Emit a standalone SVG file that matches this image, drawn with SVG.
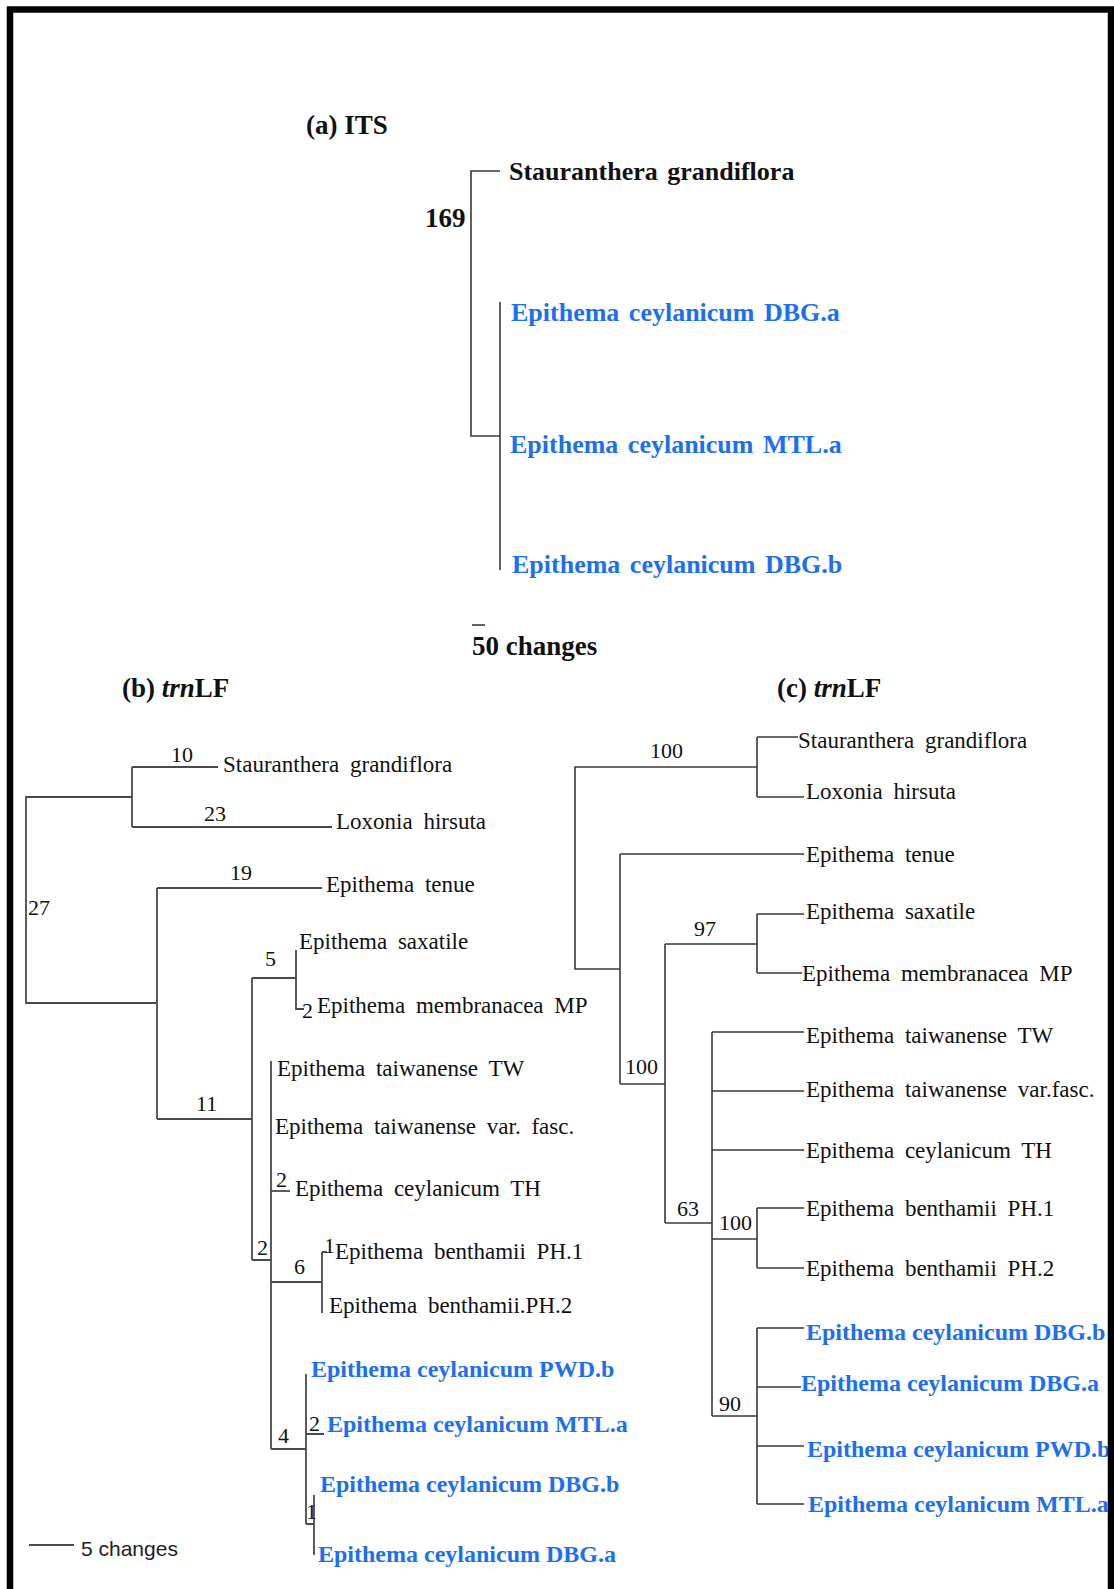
<svg xmlns="http://www.w3.org/2000/svg" width="1114" height="1589" viewBox="0 0 1114 1589">
<style>
.bg{fill:#fff}
.frame{fill:none;stroke:#000;stroke-width:6.5}
.ln{fill:none;stroke:#3a3a3a;stroke-width:1.6}
.lnb{fill:none;stroke:#4a4a4a;stroke-width:1.8}
.ttl{font-family:"Liberation Serif",serif;font-weight:bold;font-size:27px;fill:#111}
.its{font-family:"Liberation Serif",serif;font-weight:bold;font-size:26px;fill:#111;word-spacing:3px}
.itsb{font-family:"Liberation Serif",serif;font-weight:bold;font-size:26px;fill:#1c6ff0;word-spacing:3px}
.tx{font-family:"Liberation Serif",serif;font-size:23px;fill:#111;word-spacing:5px}
.num{font-family:"Liberation Serif",serif;font-size:22px;fill:#111}
.blu{font-family:"Liberation Serif",serif;font-weight:bold;font-size:24px;fill:#1c6ff0}
.sc{font-family:"Liberation Sans",sans-serif;font-size:21px;fill:#222}
</style>
<rect class="bg" x="0" y="0" width="1114" height="1589"/>

<g id="connectors">
  <!-- panel a -->
  <path class="ln" d="M500,171 H471 V436 H500"/>
  <path class="ln" d="M500,302 V570"/>
  <path class="ln" d="M472,625 H485"/>
  <!-- panel b -->
  <path class="lnb" d="M132,767 V827 M132,767 H218 M132,827 H332"/>
  <path class="lnb" d="M132,797 H26 V1003 H157"/>
  <path class="lnb" d="M157,888 V1119 M157,888 H322 M157,1119 H252"/>
  <path class="lnb" d="M252,978 V1260 M252,978 H296 M252,1260 H271"/>
  <path class="lnb" d="M296,950 V1009 H304"/>
  <path class="lnb" d="M271,1061 V1449"/>
  <path class="lnb" d="M271,1191 H290"/>
  <path class="lnb" d="M271,1282 H322 M322,1252 V1313 M322,1252 H327"/>
  <path class="lnb" d="M271,1449 H306 M306,1374 V1524 M306,1434 H324 M306,1524 H314 M314,1495 V1555"/>
  <path class="lnb" d="M29,1545 H74"/>
  <!-- panel c -->
  <path class="ln" d="M757,737 V797 M757,737 H798 M757,797 H804"/>
  <path class="ln" d="M757,767 H575 V969 H620"/>
  <path class="ln" d="M620,854 V1084 M620,854 H804 M620,1084 H665"/>
  <path class="ln" d="M665,944 V1223 M665,944 H757 M665,1223 H712"/>
  <path class="ln" d="M757,914 V973 M757,914 H804 M757,973 H802"/>
  <path class="ln" d="M712,1032 V1416 M712,1032 H804 M712,1091 H804 M712,1150 H804"/>
  <path class="ln" d="M712,1239 H757 M757,1208 V1268 M757,1208 H804 M757,1268 H804"/>
  <path class="ln" d="M712,1416 H757 M757,1328 V1504 M757,1328 H804 M757,1387 H801 M757,1446 H804 M757,1504 H804"/>
</g>

<g id="panel-a">
  <text class="ttl" x="306" y="134">(a) ITS</text>
  <g id="a-stauranthera"><text class="its" x="509" y="180">Stauranthera grandiflora</text></g>
  <text class="ttl" x="425" y="227">169</text>
  <g id="a-dbga"><text class="itsb" x="511" y="321">Epithema ceylanicum DBG.a</text></g>
  <g id="a-mtla"><text class="itsb" x="510" y="453">Epithema ceylanicum MTL.a</text></g>
  <g id="a-dbgb"><text class="itsb" x="512" y="573">Epithema ceylanicum DBG.b</text></g>
  <text class="ttl" x="472" y="655">50 changes</text>
</g>

<g id="panel-b">
  <text class="ttl" x="122" y="697">(b) <tspan font-style="italic">trn</tspan>LF</text>
  <text class="num" x="171" y="762">10</text>
  <g id="b-stauranthera"><text class="tx" x="223" y="772">Stauranthera grandiflora</text></g>
  <text class="num" x="204" y="821">23</text>
  <g id="b-loxonia"><text class="tx" x="336" y="829">Loxonia hirsuta</text></g>
  <text class="num" x="28" y="915">27</text>
  <text class="num" x="230" y="880">19</text>
  <g id="b-tenue"><text class="tx" x="326" y="892">Epithema tenue</text></g>
  <text class="num" x="265" y="966">5</text>
  <g id="b-saxatile"><text class="tx" x="299" y="949">Epithema saxatile</text></g>
  <text class="num" x="302" y="1018">2</text>
  <g id="b-membranacea"><text class="tx" x="317" y="1013">Epithema membranacea MP</text></g>
  <text class="num" x="196" y="1111">11</text>
  <g id="b-taiwanense-tw"><text class="tx" x="277" y="1076">Epithema taiwanense TW</text></g>
  <g id="b-taiwanense-var"><text class="tx" x="275" y="1134">Epithema taiwanense var. fasc.</text></g>
  <text class="num" x="276" y="1187">2</text>
  <g id="b-ceylanicum-th"><text class="tx" x="295" y="1196">Epithema ceylanicum TH</text></g>
  <text class="num" x="257" y="1255">2</text>
  <text class="num" x="294" y="1274">6</text>
  <text class="num" x="324" y="1253">1</text>
  <g id="b-benthamii-1"><text class="tx" x="335" y="1259">Epithema benthamii PH.1</text></g>
  <g id="b-benthamii-2"><text class="tx" x="329" y="1313">Epithema benthamii.PH.2</text></g>
  <g id="b-pwdb"><text class="blu" x="311" y="1377">Epithema ceylanicum PWD.b</text></g>
  <text class="num" x="309" y="1431">2</text>
  <g id="b-mtla"><text class="blu" x="327" y="1432">Epithema ceylanicum MTL.a</text></g>
  <text class="num" x="278" y="1443">4</text>
  <g id="b-dbgb"><text class="blu" x="320" y="1492">Epithema ceylanicum DBG.b</text></g>
  <text class="num" x="306" y="1519">1</text>
  <g id="b-dbga"><text class="blu" x="318" y="1562">Epithema ceylanicum DBG.a</text></g>
  <text class="sc" x="81" y="1556">5 changes</text>
</g>

<g id="panel-c">
  <text class="ttl" x="777" y="697">(c) <tspan font-style="italic">trn</tspan>LF</text>
  <text class="num" x="650" y="758">100</text>
  <g id="c-stauranthera"><text class="tx" x="798" y="748">Stauranthera grandiflora</text></g>
  <g id="c-loxonia"><text class="tx" x="806" y="799">Loxonia hirsuta</text></g>
  <g id="c-tenue"><text class="tx" x="806" y="862">Epithema tenue</text></g>
  <text class="num" x="694" y="936">97</text>
  <g id="c-saxatile"><text class="tx" x="806" y="919">Epithema saxatile</text></g>
  <g id="c-membranacea"><text class="tx" x="802" y="981">Epithema membranacea MP</text></g>
  <text class="num" x="625" y="1074">100</text>
  <g id="c-taiwanense-tw"><text class="tx" x="806" y="1043">Epithema taiwanense TW</text></g>
  <g id="c-taiwanense-var"><text class="tx" x="806" y="1097">Epithema taiwanense var.fasc.</text></g>
  <g id="c-ceylanicum-th"><text class="tx" x="806" y="1158">Epithema ceylanicum TH</text></g>
  <text class="num" x="677" y="1216">63</text>
  <text class="num" x="719" y="1230">100</text>
  <g id="c-benthamii-1"><text class="tx" x="806" y="1216">Epithema benthamii PH.1</text></g>
  <g id="c-benthamii-2"><text class="tx" x="806" y="1276">Epithema benthamii PH.2</text></g>
  <text class="num" x="719" y="1411">90</text>
  <g id="c-dbgb"><text class="blu" x="806" y="1340">Epithema ceylanicum DBG.b</text></g>
  <g id="c-dbga"><text class="blu" x="801" y="1391">Epithema ceylanicum DBG.a</text></g>
  <g id="c-pwdb"><text class="blu" x="807" y="1457">Epithema ceylanicum PWD.b</text></g>
  <g id="c-mtla"><text class="blu" x="808" y="1512">Epithema ceylanicum MTL.a</text></g>
</g>

<rect class="frame" x="10" y="9.5" width="1101" height="1620"/>
</svg>
